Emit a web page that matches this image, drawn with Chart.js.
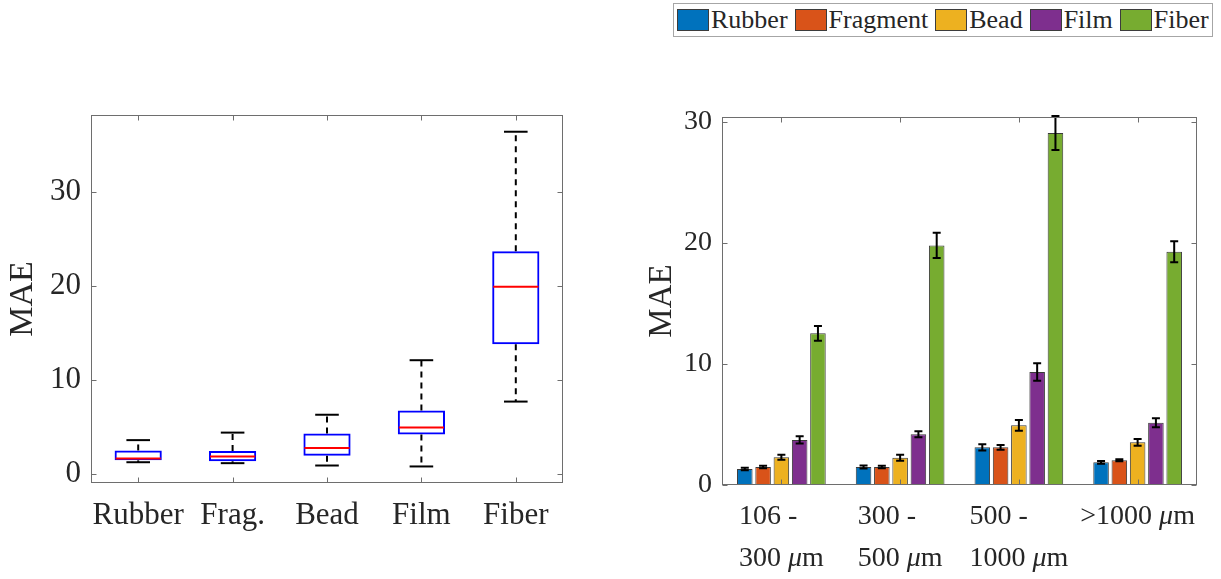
<!DOCTYPE html>
<html>
<head>
<meta charset="utf-8">
<script src="https://cdn.jsdelivr.net/npm/chart.js@4.4.1/dist/chart.umd.min.js"></script>
<style>
    body { margin: 0; background: #fff; width: 1221px; height: 579px; overflow: hidden; position: relative; font-family: 'Liberation Serif', serif; }
    #leftWrap { position: absolute; left: 0; top: 0; width: 600px; height: 579px; }
    #rightWrap { position: absolute; left: 620px; top: 0; width: 601px; height: 579px; }
    #legend { position: absolute; left: 673px; top: 3px; width: 540px; height: 34px; box-sizing: border-box;
              border: 1px solid #a6a6a6; display: flex; align-items: center; color: #262626; font-size: 26px; background: #fff; }
    .item { display: flex; align-items: center; margin-left: 3px; margin-right: 4px; }
    .sw { width: 32px; height: 22px; box-sizing: border-box; border: 1px solid #3c3c3c; margin-right: 2px; }
</style>
</head>
<body>
<div id="leftWrap"><canvas id="boxChart"></canvas></div>
<div id="rightWrap"><canvas id="barChart"></canvas></div>
<div id="legend"></div>
<script>
// left panel: box plot of MAE per particle type
const boxCats = ['Rubber', 'Frag.', 'Bead', 'Film', 'Fiber'];
const boxLow  = [1.25, 1.15, 0.9, 0.8, 7.7];
const boxQ1   = [1.45, 1.35, 1.95, 4.2, 13.8];
const boxMed  = [1.65, 1.85, 2.75, 4.95, 19.9];
const boxQ3   = [2.5, 2.45, 4.3, 6.75, 23.7];
const boxHigh = [3.6, 4.4, 6.3, 12.1, 36.4];
const leftTicks = [0, 10, 20, 30];

// right panel: MAE per size class, grouped by type
const sizeGroups = [['106 -', '300 μm'], ['300 -', '500 μm'], ['500 -', '1000 μm'], ['>1000 μm']];
const seriesNames = ['Rubber', 'Fragment', 'Bead', 'Film', 'Fiber'];
const seriesColors = ['#0072BD', '#D95319', '#EDB120', '#7E2F8E', '#77AC30'];
const rubberMAE   = [1.32, 1.49, 3.11, 1.87];
const fragmentMAE = [1.49, 1.49, 3.11, 2.04];
const beadMAE     = [2.29, 2.26, 4.93, 3.53];
const filmMAE     = [3.72, 4.19, 9.34, 5.15];
const fiberMAE    = [12.53, 19.8, 29.09, 19.28];
const rubberErr   = [0.1, 0.12, 0.25, 0.12];
const fragmentErr = [0.1, 0.1, 0.2, 0.08];
const beadErr     = [0.2, 0.25, 0.44, 0.28];
const filmErr     = [0.3, 0.25, 0.72, 0.37];
const fiberErr    = [0.6, 1.04, 1.4, 0.87];
const rightTicks = [0, 10, 20, 30];

const TXT = '#262626';
const SERIF = "'Liberation Serif', 'Times New Roman', serif";

// matlab style frame with inward ticks on all four sides
const axesBox = {
    id: 'axesBox',
    afterDraw(chart) {
        const { ctx, chartArea: a, scales: { x, y } } = chart;
        const L = Math.round(a.left) + 0.5, R = Math.round(a.right) - 0.5;
        const T = Math.round(a.top) + 0.5, B = Math.round(a.bottom) - 0.5;
        ctx.save();
        ctx.strokeStyle = '#6e6e6e';
        ctx.lineWidth = 1;
        ctx.strokeRect(L, T, R - L, B - T);
        ctx.beginPath();
        x.ticks.forEach((t, i) => {
            const px = Math.round(x.getPixelForTick(i)) + 0.5;
            ctx.moveTo(px, B); ctx.lineTo(px, B - 5);
            ctx.moveTo(px, T); ctx.lineTo(px, T + 5);
        });
        y.ticks.forEach(t => {
            const py = Math.round(y.getPixelForValue(t.value)) + 0.5;
            ctx.moveTo(L, py); ctx.lineTo(L + 5, py);
            ctx.moveTo(R, py); ctx.lineTo(R - 5, py);
        });
        ctx.stroke();
        ctx.restore();
    }
};

// whiskers, caps and medians for the box plot
const whiskers = {
    id: 'whiskers',
    afterDatasetsDraw(chart) {
        const { ctx, scales: { x, y } } = chart;
        const catW = x.getPixelForValue(1) - x.getPixelForValue(0);
        const seg = (x1, y1, x2, y2) => { ctx.beginPath(); ctx.moveTo(x1, y1); ctx.lineTo(x2, y2); ctx.stroke(); };
        ctx.save();
        ctx.lineWidth = 2;
        boxCats.forEach((c, i) => {
            const cx = x.getPixelForValue(i);
            ctx.strokeStyle = '#000';
            ctx.setLineDash([6, 5]);
            seg(cx, y.getPixelForValue(boxQ3[i]), cx, y.getPixelForValue(boxHigh[i]));
            seg(cx, y.getPixelForValue(boxQ1[i]), cx, y.getPixelForValue(boxLow[i]));
            ctx.setLineDash([]);
            const cw = catW * 0.125;
            seg(cx - cw, y.getPixelForValue(boxHigh[i]), cx + cw, y.getPixelForValue(boxHigh[i]));
            seg(cx - cw, y.getPixelForValue(boxLow[i]), cx + cw, y.getPixelForValue(boxLow[i]));
            ctx.strokeStyle = '#ff0000';
            const mw = catW * 0.25 - 1;
            seg(cx - mw, y.getPixelForValue(boxMed[i]), cx + mw, y.getPixelForValue(boxMed[i]));
        });
        ctx.restore();
    }
};

// error bars on the grouped bars
const errorBars = {
    id: 'errorBars',
    afterDatasetsDraw(chart) {
        const { ctx, scales: { y } } = chart;
        ctx.save();
        ctx.strokeStyle = '#000';
        ctx.lineWidth = 2;
        chart.data.datasets.forEach((ds, d) => {
            chart.getDatasetMeta(d).data.forEach((bar, i) => {
                const v = ds.data[i], e = ds.errors[i];
                const top = y.getPixelForValue(v + e), bot = y.getPixelForValue(v - e);
                ctx.beginPath();
                ctx.moveTo(bar.x, top); ctx.lineTo(bar.x, bot);
                ctx.moveTo(bar.x - 4, top); ctx.lineTo(bar.x + 4, top);
                ctx.moveTo(bar.x - 4, bot); ctx.lineTo(bar.x + 4, bot);
                ctx.stroke();
            });
        });
        ctx.restore();
    }
};

// two-line size labels, lines left aligned, block centred, italic mu
function richParts(str) {
    return str.split(/(μ)/).filter(s => s.length);
}
function richWidth(ctx, str, size) {
    return richParts(str).reduce((w, p) => {
        ctx.font = (p === 'μ' ? 'italic ' : '') + size + 'px ' + SERIF;
        return w + ctx.measureText(p).width;
    }, 0);
}
function drawRich(ctx, str, x0, yb, size) {
    let cx = x0;
    richParts(str).forEach(p => {
        ctx.font = (p === 'μ' ? 'italic ' : '') + size + 'px ' + SERIF;
        ctx.fillText(p, cx, yb);
        cx += ctx.measureText(p).width;
    });
}
const groupLabels = {
    id: 'groupLabels',
    afterDraw(chart) {
        const { ctx, chartArea: a, scales: { x } } = chart;
        ctx.save();
        ctx.fillStyle = TXT;
        ctx.textAlign = 'left';
        ctx.textBaseline = 'alphabetic';
        sizeGroups.forEach((lines, i) => {
            const cx = x.getPixelForValue(i);
            const w = Math.max(...lines.map(l => richWidth(ctx, l, 28)));
            lines.forEach((l, k) => drawRich(ctx, l, cx - w / 2, a.bottom + 39 + k * 42, 28));
        });
        ctx.restore();
    }
};

Chart.defaults.font.family = SERIF;
Chart.defaults.color = TXT;

new Chart(document.getElementById('boxChart'), {
    type: 'bar',
    data: {
        labels: boxCats,
        datasets: [{
            data: boxCats.map((c, i) => [boxQ1[i], boxQ3[i]]),
            backgroundColor: 'rgba(0,0,0,0)',
            borderColor: '#0000ff',
            borderWidth: 2,
            borderSkipped: false,
            barPercentage: 0.5,
            categoryPercentage: 1
        }]
    },
    options: {
        responsive: true,
        maintainAspectRatio: false,
        animation: false,
        layout: { padding: { top: 115, right: 37, left: 0, bottom: 0 } },
        plugins: { legend: { display: false }, tooltip: { enabled: false } },
        scales: {
            x: {
                grid: { display: false }, border: { display: false },
                ticks: { font: { size: 31 }, color: TXT, padding: 6, maxRotation: 0 },
                afterFit: s => { s.height = 96; }
            },
            y: {
                min: -0.96, max: 38.18,
                grid: { display: false, drawTicks: false }, border: { display: false },
                ticks: { font: { size: 31 }, color: TXT, padding: 10 },
                afterBuildTicks: s => { s.ticks = leftTicks.map(v => ({ value: v })); },
                title: { display: true, text: 'MAE', font: { size: 34 }, color: TXT, padding: { top: 3, bottom: 0 } },
                afterFit: s => { s.width = 91; }
            }
        }
    },
    plugins: [whiskers, axesBox]
});

const maeSeries = [rubberMAE, fragmentMAE, beadMAE, filmMAE, fiberMAE];
const errSeries = [rubberErr, fragmentErr, beadErr, filmErr, fiberErr];

const barChart = new Chart(document.getElementById('barChart'), {
    type: 'bar',
    data: {
        labels: sizeGroups.map(g => g.join(' ')),
        datasets: seriesNames.map((name, k) => ({
            label: name,
            data: maeSeries[k],
            errors: errSeries[k],
            backgroundColor: seriesColors[k],
            borderColor: '#3a3a3a',
            borderWidth: 1,
            borderSkipped: false,
            barPercentage: 0.85,
            categoryPercentage: 0.77
        }))
    },
    options: {
        responsive: true,
        maintainAspectRatio: false,
        animation: false,
        layout: { padding: { top: 117, right: 24, left: 0, bottom: 0 } },
        plugins: { legend: { display: false }, tooltip: { enabled: false } },
        scales: {
            x: {
                grid: { display: false }, border: { display: false },
                ticks: { display: false },
                afterFit: s => { s.height = 94; }
            },
            y: {
                min: 0, max: 30.41,
                grid: { display: false, drawTicks: false }, border: { display: false },
                ticks: { font: { size: 28 }, color: TXT, padding: 10 },
                afterBuildTicks: s => { s.ticks = rightTicks.map(v => ({ value: v })); },
                title: { display: true, text: 'MAE', font: { size: 33 }, color: TXT, padding: { top: 23, bottom: 0 } },
                afterFit: s => { s.width = 102; }
            }
        }
    },
    plugins: [errorBars, axesBox, groupLabels]
});

// legend box built from the bar datasets
const legend = document.getElementById('legend');
barChart.data.datasets.forEach(ds => {
    const item = document.createElement('div');
    item.className = 'item';
    item.innerHTML = `<span class="sw" style="background:${ds.backgroundColor}"></span><span>${ds.label}</span>`;
    legend.appendChild(item);
});
</script>
</body>
</html>
